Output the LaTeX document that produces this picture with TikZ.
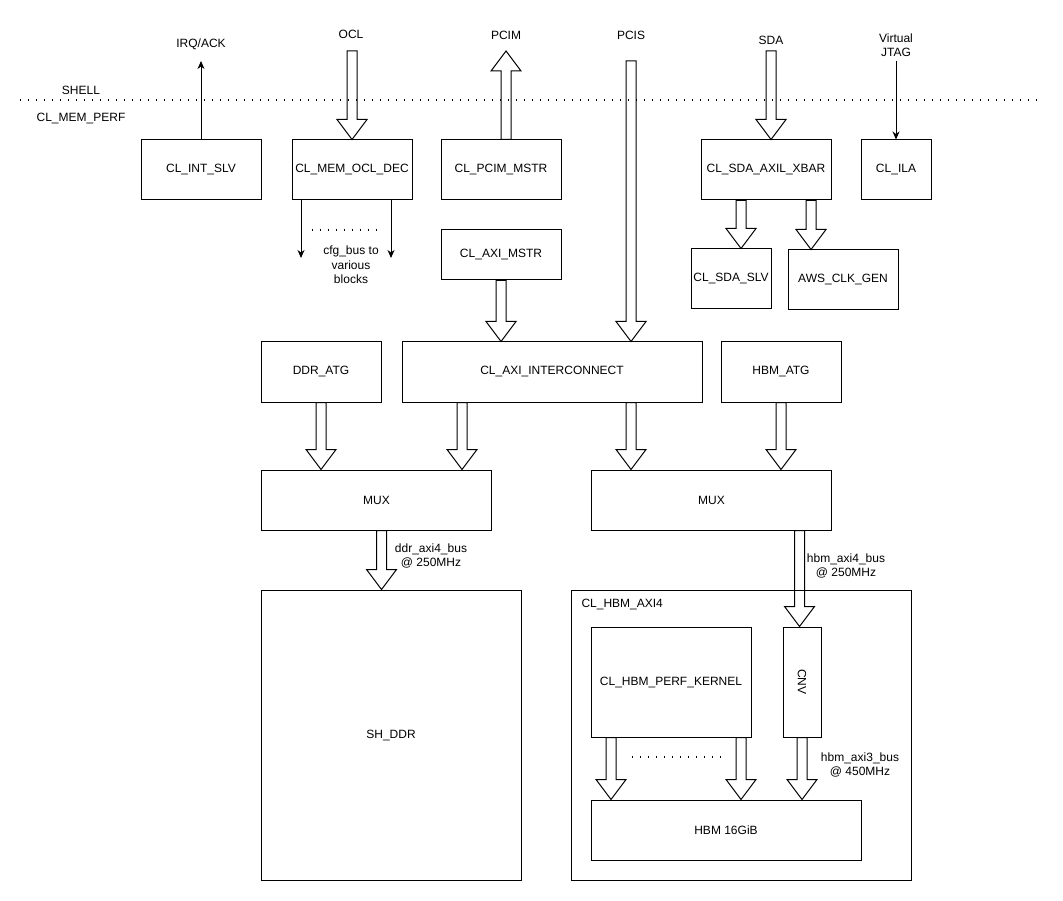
\documentclass[tikz,border=0pt]{standalone}
\usepackage{fontspec}
\setmainfont{Liberation Sans}
\usetikzlibrary{arrows.meta,calc}

\begin{document}
\begin{tikzpicture}
  [x=1pt,y=-1pt,line width=1pt,
   every node/.style={font=\fontsize{12}{14.5}\selectfont,inner sep=0pt,align=center}]
  \tikzstyle{blk} = [draw,rectangle]
  \tikzstyle{sig} = [-{Stealth[length=8pt,width=7pt,inset=2.5pt]}]
  \tikzstyle{dotline} = [line width=1.4pt,dash pattern=on 1.4pt off 6.6pt]
  \tikzstyle{bus} = [to path={let \p1=(\tikztostart), \p2=(\tikztotarget), \n1={sign(\y2-\y1)} in
    ({\x1-5pt},\y1) -- ({\x1-5pt},{\y2-20pt*(\n1)}) -- ({\x1-15pt},{\y2-20pt*(\n1)}) -- (\x1,\y2)
    -- ({\x1+15pt},{\y2-20pt*(\n1)}) -- ({\x1+5pt},{\y2-20pt*(\n1)}) -- ({\x1+5pt},\y1) -- cycle}]
  \useasboundingbox (0,0) rectangle (1063,901);

  % blocks
  \foreach \name/\x/\y/\w/\h/\txt in {
      intslv/201/170/120/60/CL\_INT\_SLV, ocldec/352/170/120/60/CL\_MEM\_OCL\_DEC,
      pcim/501/170/120/60/CL\_PCIM\_MSTR, xbar/766/170/130/60/CL\_SDA\_AXIL\_XBAR,
      ila/896/170/70/60/CL\_ILA, sdaslv/731/279/80/60/CL\_SDA\_SLV,
      clkgen/843/280/110/60/AWS\_CLK\_GEN, aximstr/501/255/120/50/CL\_AXI\_MSTR,
      ddratg/321/372/120/60/DDR\_ATG, interconnect/552/372/300/60/CL\_AXI\_INTERCONNECT,
      hbmatg/781/372/120/60/HBM\_ATG, muxddr/376.5/500/230/60/MUX,
      muxhbm/711.5/500/240/60/MUX, shddr/391/735/260/290/SH\_DDR,
      hbmaxi/741/735/340/290/, kernel/671/682/160/110/CL\_HBM\_PERF\_KERNEL,
      hbm/726/830/270/60/HBM 16GiB}
    \node[blk,minimum width=\w,minimum height=\h] (\name) at (\x,\y) {\txt};
  \node[blk,minimum width=38,minimum height=110,label={[rotate=-90]center:CNV}] (cnv) at (802,682) {};

  % texts
  \foreach \name/\x/\y/\txt in {
      shell/81/90/SHELL, memperf/81/119/CL\_MEM\_PERF, irqtxt/201/44/{IRQ/ACK},
      ocltxt/351/34/OCL, pcimtxt/506/35/PCIM, pcistxt/631/35/PCIS, sdatxt/771/40/SDA,
      jtagtxt/896/45/{Virtual\\JTAG}, cfgtxt/351/265/{cfg\_bus to\\various\\blocks},
      ddrbus/431/556/{ddr\_axi4\_bus\\@ 250MHz}, hbmbus/846/566/{hbm\_axi4\_bus\\@ 250MHz},
      axi3bus/860/765/{hbm\_axi3\_bus\\@ 450MHz}}
    \node (\name) at (\x,\y) {\txt};
  \node[anchor=west] (hbmaxitxt) at (581,605) {CL\_HBM\_AXI4};

  % free ends
  \coordinate (ocl) at (352,51);
  \coordinate (pcimout) at (506,51);
  \coordinate (pcis) at (631,61);
  \coordinate (sda) at (771,51);
  \coordinate (irq) at (201,61);
  \coordinate (jtag) at (896,61);
  \coordinate (cfgl) at (301,258);
  \coordinate (cfgr) at (391,258);

  % shell border and dots
  \draw[dotline] (20,100) -- (1040,100);
  \draw[dotline,line width=1.2pt] (312,230) -- (382,230);
  \draw[dotline,line width=1.2pt] (632,757) -- (724,757);

  % wide buses
  \foreach \source/\dx/\dest in {ocl/0/ocldec.north, pcim.north/5/pcimout,
      pcis/0/interconnect.north, sda/0/xbar.north, aximstr.south/0/interconnect.north,
      xbar.south/-25/sdaslv.north, xbar.south/45/clkgen.north,
      ddratg.south/0/muxddr.north, interconnect.south/-90/muxddr.north,
      interconnect.south/79/muxhbm.north, hbmatg.south/0/muxhbm.north,
      muxddr.south/5/shddr.north, muxhbm.south/88/cnv.north,
      kernel.south/-60/hbm.north, kernel.south/70/hbm.north, cnv.south/0/hbm.north}
    \draw[bus] ([xshift=\dx pt]\source) to (\dest);

  % single lines
  \draw[sig] (intslv.north) -- (irq);
  \draw[sig] (ocldec.south -| cfgl) -- (cfgl);
  \draw[sig] (ocldec.south -| cfgr) -- (cfgr);
  \draw[sig] (jtag) -- (ila.north);
\end{tikzpicture}
\end{document}
